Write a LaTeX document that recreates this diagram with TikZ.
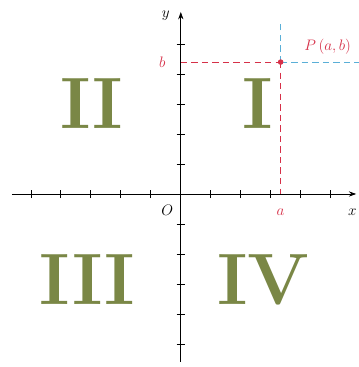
\documentclass[tikz,border=0pt]{standalone}
\usepackage{amsmath,amssymb}
\usepackage{xcolor}
\usetikzlibrary{arrows.meta,positioning,calc}

\definecolor{quadgreen}{RGB}{122,135,70}
\definecolor{ptred}{RGB}{214,48,72}
\definecolor{ptblue}{RGB}{90,175,215}

\begin{document}
\begin{tikzpicture}[
    axis/.style={draw, line width=0.8pt, -{Stealth[length=7pt,width=5pt]}},
    tick/.style={line width=0.7pt},
    quad/.style={font=\fontsize{69}{69}\selectfont\bfseries, text=quadgreen, inner sep=0pt},
    lbl/.style={font=\Large, inner sep=1pt},
    reddash/.style={draw=ptred, dashed, dash pattern=on 6pt off 4pt, line width=0.8pt},
    bluedash/.style={draw=ptblue, dashed, dash pattern=on 6pt off 4pt, line width=0.8pt}
]
    \useasboundingbox (-6.03,-5.77) rectangle (5.93,6.47);

    % Axes
    \coordinate (O) at (0,0);
    \coordinate (xl) at (-5.63,0);
    \coordinate (xr) at (5.85,0);
    \coordinate (yb) at (0,-5.6);
    \coordinate (yt) at (0,6.07);
    \draw[axis] (xl) -- (xr);
    \draw[axis] (yb) -- (yt);
    \foreach \i in {-5,...,-1,1,2,3,4,5} {
        \draw[tick] (\i,-0.14) -- (\i,0.14);
        \draw[tick] (-0.14,\i) -- (0.14,\i);
    }
    \node[lbl] (xlab) at (5.72,-0.62) {$x$};
    \node[lbl] (ylab) at (-0.5,5.95) {$y$};
    \node[lbl] (olab) at (-0.45,-0.55) {$O$};

    % Point P and its projections
    \node[circle, fill=ptred, inner sep=0pt, minimum size=5pt] (P) at (3.33,4.4) {};
    \coordinate (Pa) at (3.33,0);
    \coordinate (Pb) at (0,4.4);
    \coordinate (Pright) at (5.93,4.4);
    \coordinate (Ptop) at (3.33,5.8);
    \draw[bluedash] (P.center) -- (Pright);
    \draw[bluedash] (P.center) -- (Ptop);
    \draw[reddash] (Pb) -- (P.center);
    \draw[reddash] (P.center) -- (Pa);
    \node[circle, fill=ptred, inner sep=0pt, minimum size=5pt] at (P) {};
    \node[lbl, text=ptred] (alab) at (3.33,-0.62) {$a$};
    \node[lbl, text=ptred] (blab) at (-0.62,4.4) {$b$};
    \node[lbl, text=ptred] (Plab) at (4.9,4.92) {$P\,(a,b)$};

    % Quadrants
    \node[quad] (q1) at (2.57,3.03) {I};
    \node[quad] (q2) at (-2.97,3.03) {II};
    \node[quad] (q3) at (-3.12,-2.87) {III};
    \node[quad] (q4) at (2.75,-2.87) {IV};
\end{tikzpicture}
\end{document}
